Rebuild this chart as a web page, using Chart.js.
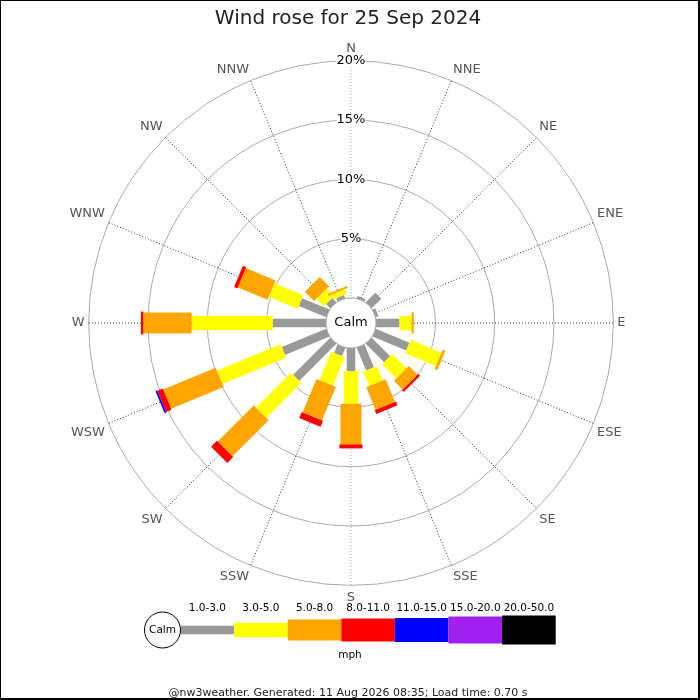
<!DOCTYPE html>
<html>
<head>
<meta charset="utf-8">
<title>Wind rose for 25 Sep 2024</title>
<script src="https://cdn.jsdelivr.net/npm/chart.js@4.4.1/dist/chart.umd.min.js"></script>
<style>
  html, body { margin: 0; padding: 0; background: #fff; }
  #rose { display: block; }
</style>
</head>
<body>
<canvas id="rose" width="700" height="700"></canvas>
<script>
// wind rose – 16 directions, % of the day in each speed band (mph)
const directions = ["N", "NNE", "NE", "ENE", "E", "ESE", "SE", "SSE", "S", "SSW", "SW", "WSW", "W", "WNW", "NW", "NNW"];
const speedBands = ["1.0-3.0", "3.0-5.0", "5.0-8.0", "8.0-11.0", "11.0-15.0", "15.0-20.0", "20.0-50.0"];

// % per band, same order as directions
const band1to3   = [0, 0.2, 1.15, 0.25, 1.97, 3.08, 2.2, 2.08, 1.94, 0.76, 4.43, 4.06, 4.49, 2.5, 0.5, 0.3];
const band3to5   = [0, 0, 0, 0, 1.03, 2.81, 1.7, 1.3, 2.76, 2.6, 4.17, 5.81, 6.83, 2.63, 0.9, 0.45];
const band5to8   = [0, 0, 0, 0, 0.18, 0.24, 1.05, 2.07, 3.42, 3.04, 4.3, 4.79, 4.08, 2.72, 1.1, 0.15];
const band8to11  = [0, 0, 0, 0, 0, 0, 0.2, 0.35, 0.34, 0.55, 0.7, 0.5, 0.2, 0.3, 0, 0];
const band11to15 = [0, 0, 0, 0, 0, 0, 0, 0, 0, 0, 0, 0.15, 0, 0, 0, 0];
const band15to20 = [0, 0, 0, 0, 0, 0, 0, 0, 0, 0, 0, 0, 0, 0, 0, 0];
const band20to50 = [0, 0, 0, 0, 0, 0, 0, 0, 0, 0, 0, 0, 0, 0, 0, 0];

const radialTicks = [0, 5, 10, 15, 20];

// styling
const bandColours = ["#999999", "#ffff00", "#ffa500", "#ff0000", "#0000ff", "#a020f0", "#000000"];
const bandWidths = [8.5, 14.5, 21, 23, 24, 27, 29];
const FONT = "DejaVu Sans";

Chart.defaults.font.family = FONT;

const bandSeries = [band1to3, band3to5, band5to8, band8to11, band11to15, band15to20, band20to50];

// radar points hold the running (stacked) total, the plugin turns them into bars
let running = directions.map(() => 0);
const datasets = bandSeries.map((vals, k) => {
  running = running.map((r, i) => r + vals[i]);
  return {
    label: speedBands[k] + " mph",
    data: running.slice(),
    bandValues: vals,
    showLine: false,
    fill: false,
    pointRadius: 0,
    pointHitRadius: 0,
    borderWidth: 0
  };
});

// -----------------------------
// stacked bars along each spoke
// -----------------------------
const roseBars = {
  id: "roseBars",
  afterDatasetsDraw(chart) {
    const scale = chart.scales.r;
    const ctx = chart.ctx;
    const xc = scale.xCenter, yc = scale.yCenter;
    const r0 = scale.getDistanceFromCenterForValue(0);

    ctx.save();
    directions.forEach((d, i) => {
      let inner = r0;
      chart.data.datasets.forEach((ds, k) => {
        const p = chart.getDatasetMeta(k).data[i];
        const outer = Math.hypot(p.x - xc, p.y - yc);
        if (ds.bandValues[i] > 0) {
          const ang = Math.atan2(p.y - yc, p.x - xc);
          ctx.save();
          ctx.translate(xc, yc);
          ctx.rotate(ang);
          ctx.fillStyle = bandColours[k];
          ctx.fillRect(inner, -bandWidths[k] / 2, outer - inner, bandWidths[k]);
          ctx.restore();
        }
        inner = outer;
      });
    });

    // calm circle in the middle
    ctx.beginPath();
    ctx.arc(xc, yc, r0, 0, Math.PI * 2);
    ctx.fillStyle = "#fff";
    ctx.fill();
    ctx.strokeStyle = "#aaa";
    ctx.lineWidth = 1;
    ctx.stroke();
    ctx.fillStyle = "#000";
    ctx.font = "13px '" + FONT + "'";
    ctx.textAlign = "center";
    ctx.textBaseline = "middle";
    ctx.fillText("Calm", xc, yc);
    ctx.restore();
  }
};

// -----------------------------
// speed key under the rose + frame
// -----------------------------
const speedKey = {
  id: "speedKey",
  afterDraw(chart) {
    const ctx = chart.ctx;
    const cx = 162.5, cy = 630, calmR = 18;
    const segW = 53.6, x0 = cx + calmR, labelY = 608;

    ctx.save();
    ctx.font = "10.5px '" + FONT + "'";
    ctx.textAlign = "center";
    ctx.textBaseline = "middle";

    speedBands.forEach((lab, k) => {
      const x = x0 + k * segW;
      ctx.fillStyle = bandColours[k];
      ctx.fillRect(x, cy - bandWidths[k] / 2, segW, bandWidths[k]);
      ctx.fillStyle = "#000";
      ctx.fillText(lab, x + segW / 2, labelY);
    });

    ctx.beginPath();
    ctx.arc(cx, cy, calmR, 0, Math.PI * 2);
    ctx.fillStyle = "#fff";
    ctx.fill();
    ctx.strokeStyle = "#000";
    ctx.lineWidth = 1;
    ctx.stroke();
    ctx.fillStyle = "#000";
    ctx.fillText("Calm", cx, cy);
    ctx.fillText("mph", 350, 655);

    // outer frame
    ctx.fillStyle = "#000";
    ctx.fillRect(0, 0, 700, 1);
    ctx.fillRect(0, 0, 1, 700);
    ctx.fillRect(698, 0, 2, 700);
    ctx.fillRect(0, 698, 700, 2);
    ctx.restore();
  }
};

new Chart(document.getElementById("rose"), {
  type: "radar",
  data: { labels: directions, datasets: datasets },
  options: {
    responsive: false,
    animation: false,
    devicePixelRatio: 1,
    events: [],
    layout: { padding: { left: 66, right: 70, top: 0, bottom: 0 } },
    plugins: {
      legend: { display: false },
      tooltip: { enabled: false },
      title: {
        display: true,
        text: "Wind rose for 25 Sep 2024",
        color: "#222",
        font: { size: 20, weight: "normal" },
        padding: { top: 7, bottom: 11 }
      },
      subtitle: {
        display: true,
        position: "bottom",
        text: "@nw3weather. Generated: 11 Aug 2026 08:35; Load time: 0.70 s",
        color: "#222",
        font: { size: 11 },
        padding: { top: 80.3, bottom: 0.5 }
      }
    },
    scales: {
      r: {
        min: -2.11,
        max: 20,
        startAngle: 0,
        afterBuildTicks: (s) => { s.ticks = radialTicks.map(v => ({ value: v })); },
        grid: { circular: true, color: "#aaa", lineWidth: 1 },
        angleLines: {
          color: (c) => (c.index % 8 === 0 ? "#aaa" : "#333"),
          lineWidth: 1,
          borderDash: [1, 2]
        },
        pointLabels: {
          color: "#555",
          font: { size: 13 },
          padding: -2.5
        },
        ticks: {
          color: "#000",
          font: { size: 13 },
          showLabelBackdrop: true,
          backdropColor: "#fff",
          backdropPadding: 0,
          callback: (v) => (v > 0 ? v + "%" : "")
        }
      }
    }
  },
  plugins: [roseBars, speedKey]
});
</script>
</body>
</html>
